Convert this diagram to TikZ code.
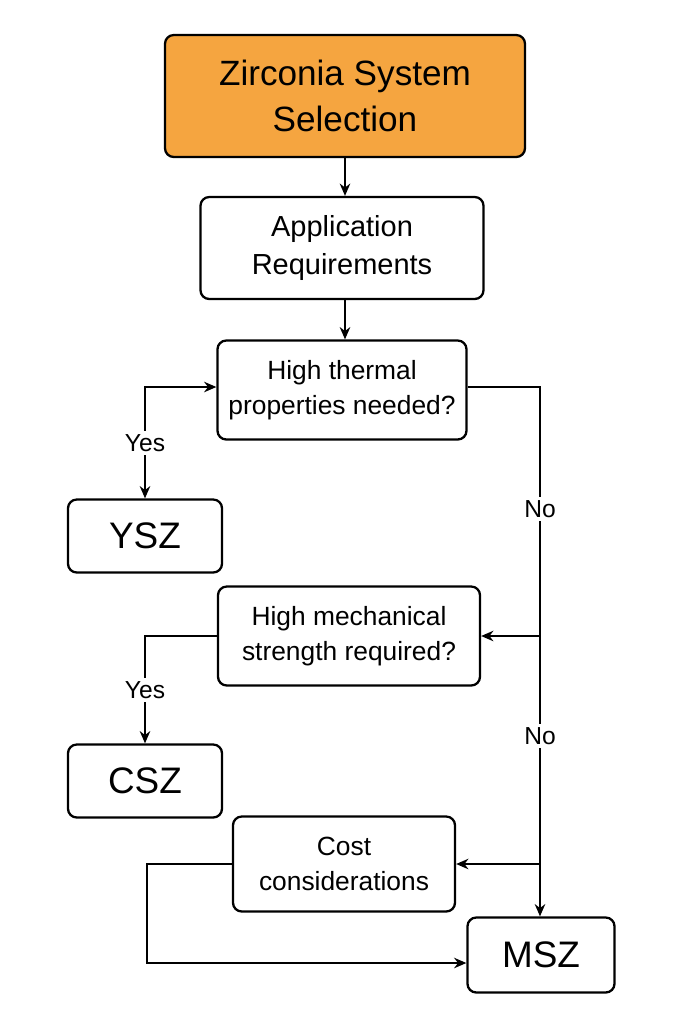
\documentclass[tikz,border=0pt]{standalone}
\usepackage{fontspec}
\setmainfont{Liberation Sans}
\usetikzlibrary{arrows.meta}
\definecolor{zrorange}{HTML}{F5A540}
\tikzset{
  box/.style={rectangle,rounded corners=5pt,draw=black,line width=1.3pt,align=center,inner sep=2pt},
  flow/.style={-{Stealth[length=7pt,width=6pt]},line width=1pt},
  lbl/.style={fill=white,font=\fontsize{14}{16}\selectfont,inner sep=2pt}
}
\begin{document}
\begin{tikzpicture}
            \useasboundingbox (0,0) rectangle (13.66,-20.48);
            \begin{scope}[every node/.style={box}]
                \node[fill=zrorange,minimum width=7.2cm,minimum height=2.44cm,font=\fontsize{20}{26}\selectfont] (sel) at (6.9,-1.92) {Zirconia System\\Selection};
                \node[minimum width=5.66cm,minimum height=2.04cm,font=\fontsize{16.5}{22}\selectfont] (app) at (6.84,-4.96) {Application\\Requirements};
                \node[minimum width=4.98cm,minimum height=1.98cm,font=\fontsize{15}{20}\selectfont] (therm) at (6.84,-7.8) {High thermal\\properties needed?};
                \node[minimum width=3.08cm,minimum height=1.46cm,font=\fontsize{21}{25}\selectfont] (ysz) at (2.9,-10.72) {YSZ};
                \node[minimum width=5.24cm,minimum height=1.98cm,font=\fontsize{15}{20}\selectfont] (mech) at (6.98,-12.72) {High mechanical\\strength required?};
                \node[minimum width=3.08cm,minimum height=1.46cm,font=\fontsize{21}{25}\selectfont] (csz) at (2.9,-15.62) {CSZ};
                \node[minimum width=4.44cm,minimum height=1.9cm,font=\fontsize{15}{20}\selectfont] (cost) at (6.88,-17.28) {Cost\\considerations};
                \node[minimum width=2.94cm,minimum height=1.5cm,font=\fontsize{21}{25}\selectfont] (msz) at (10.82,-19.1) {MSZ};
            \end{scope}
            \coordinate (trunk) at (10.8,-7.74);
            \draw[flow] (sel.south) -- (sel.south |- app.north);
            \draw[flow] (app.south -| sel.south) -- (sel.south |- therm.north);
            \draw[flow,{Stealth[length=7pt,width=6pt]}-{Stealth[length=7pt,width=6pt]}] (ysz) |- node[lbl,pos=0.25]{Yes} (therm.west |- trunk);
            \draw[flow] (therm.east |- trunk) -- (trunk) -- node[lbl,pos=0.23]{No} node[lbl,pos=0.66]{No} (msz.north -| trunk);
            \draw[flow] (mech.east -| trunk) -- (mech.east);
            \draw[flow] (cost.east -| trunk) -- (cost.east);
            \draw[flow] (mech.west) -| node[lbl,pos=0.75]{Yes} (csz);
            \draw[flow] (cost.west) -- ++(-1.7,0) |- ([yshift=-0.16cm]msz.west);
        \end{tikzpicture}
\end{document}
